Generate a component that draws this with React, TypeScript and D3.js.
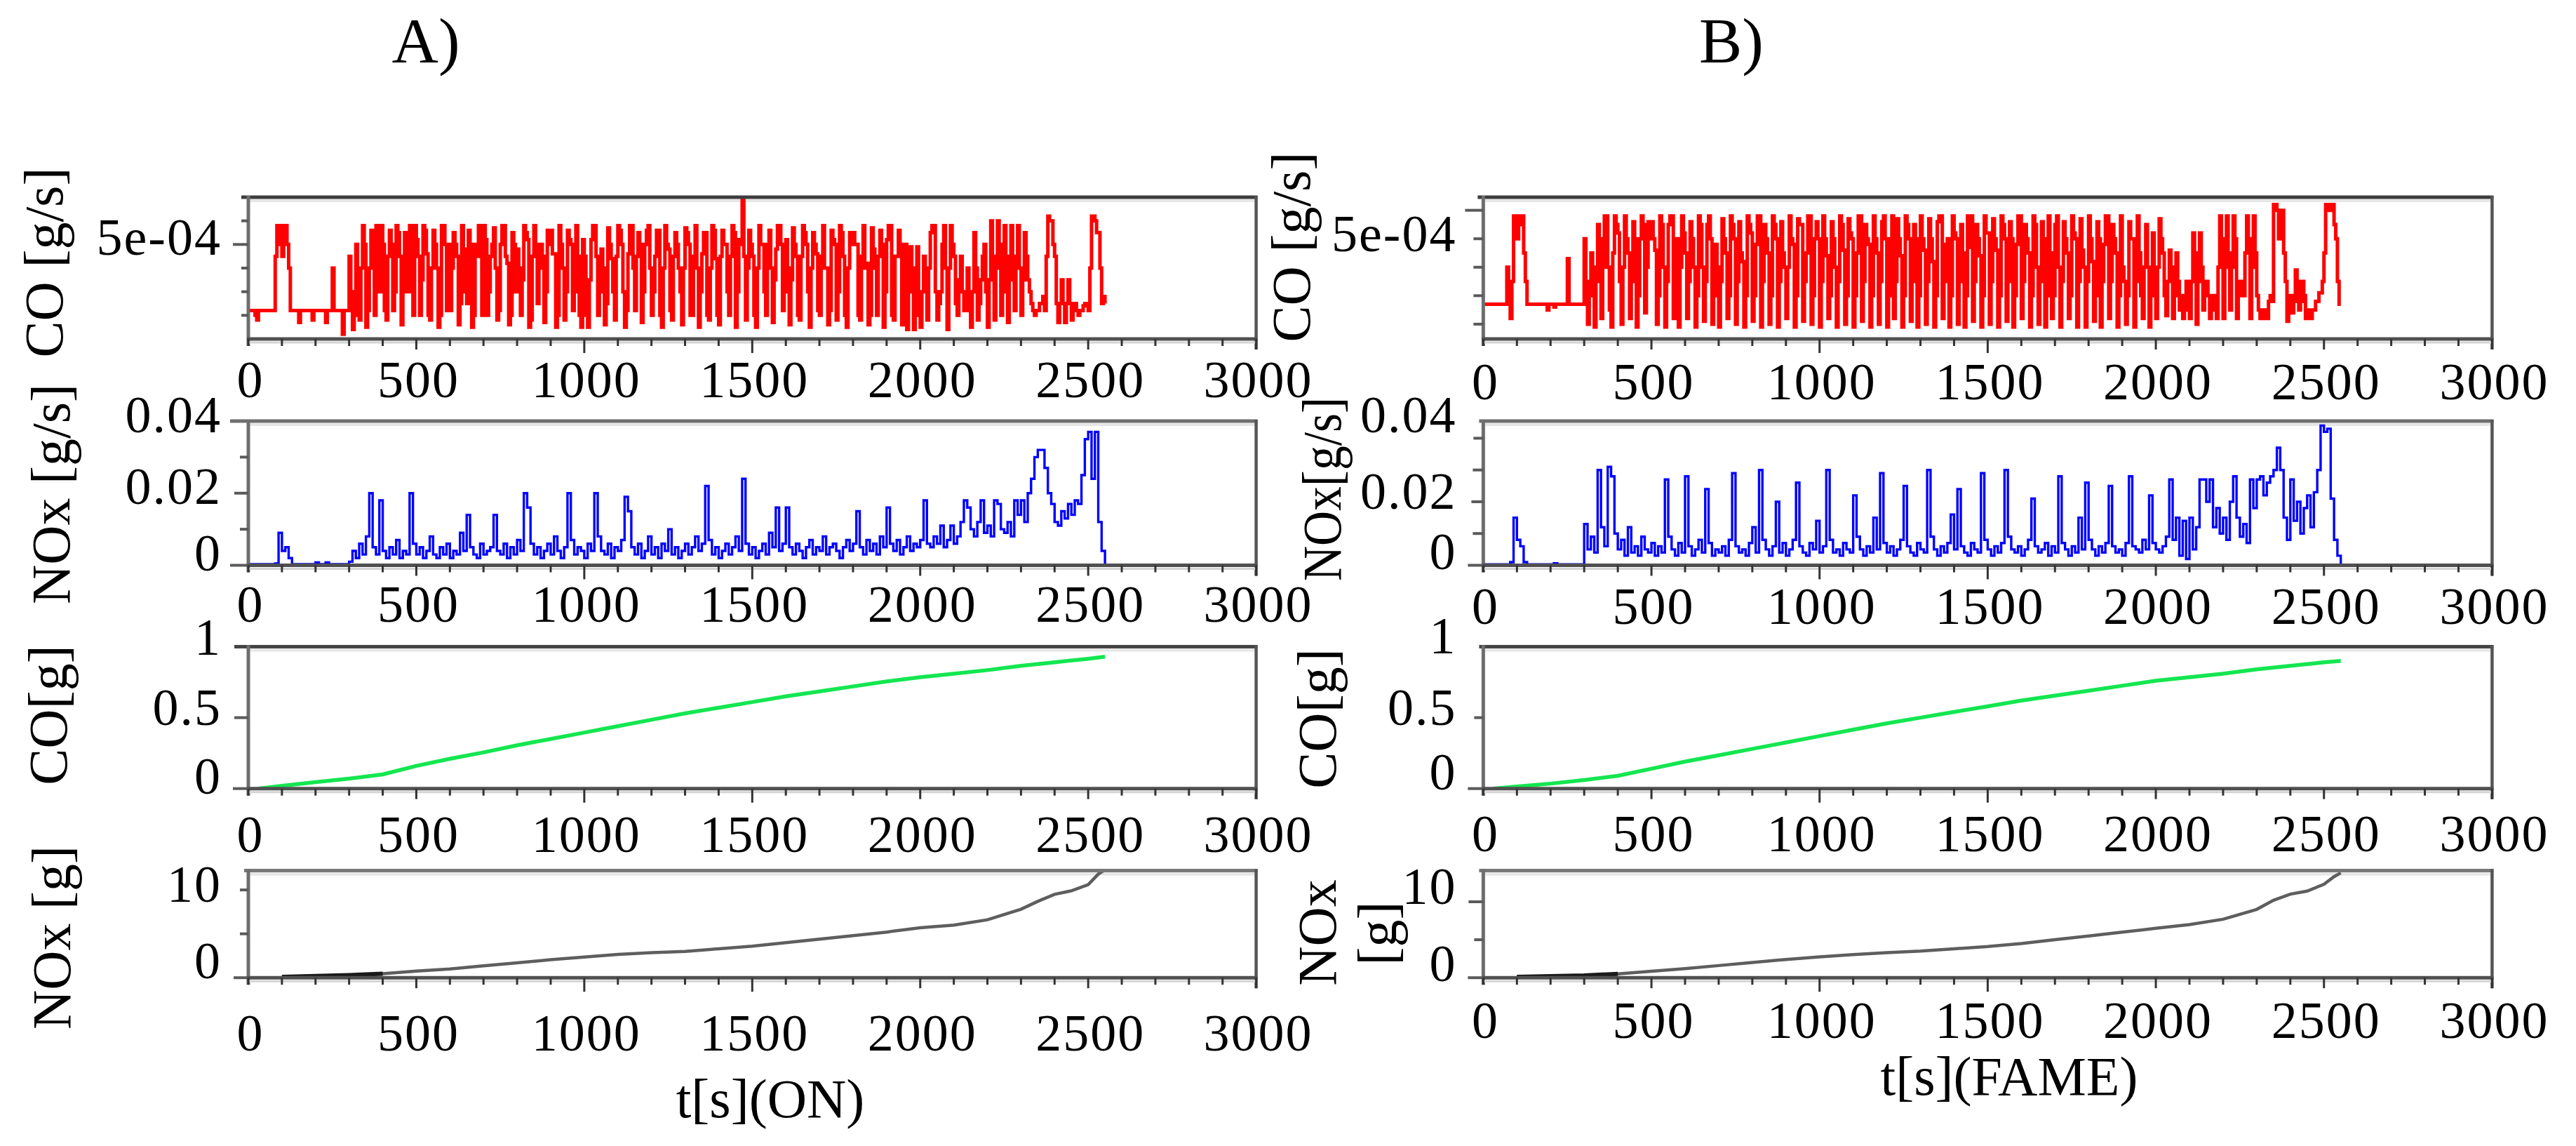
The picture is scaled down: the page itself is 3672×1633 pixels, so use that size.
import React from 'react';
import * as d3 from 'd3';

// ---------------- DATA ----------------
const CO_STEP = 5;   // seconds between CO-rate samples
const NOX_STEP = 10; // seconds between NOx-rate samples

// CO emission rate, units of 1e-5 g/s (A: ON fuel), every 5 s from t = 0
const coA = [
  22,22,22,22,20,18,22,22,22,22,22,22,22,22,22,22,
  45,58,58,50,45,58,58,50,40,22,
  22,22,22,22,17,22,22,22,22,22,22,22,18,22,22,22,22,22,22,22,17,22,22,22,
  40,22,
  22,22,22,22,12,22,22,22,
  45,30,14,20,50,35,18,40,58,50,15,22,40,56,45,20,58,55,30,58,
  50,22,18,45,56,50,22,30,58,55,45,16,30,55,40,30,58,50,20,58,
  52,45,20,35,58,56,46,20,18,40,56,50,40,15,20,58,58,50,22,50,
  22,40,55,50,45,16,25,58,48,30,25,56,50,15,20,50,45,58,55,20,
  58,52,20,30,45,50,57,40,18,22,50,58,58,45,42,16,20,55,50,30,
  48,40,20,35,58,55,52,15,18,45,58,50,25,40,50,45,17,30,56,50,
  56,46,46,15,20,58,50,40,18,30,56,52,50,22,30,58,45,20,15,52,
  45,20,15,35,52,58,58,45,20,30,48,40,16,25,57,50,44,30,18,45,
  58,56,50,30,15,22,46,58,58,40,22,45,55,50,17,30,50,56,58,40,
  20,30,45,56,56,20,15,40,58,50,48,22,18,45,55,50,40,30,16,40,
  57,55,50,20,20,45,58,40,15,30,46,55,55,20,18,40,58,56,44,20,
  16,45,56,50,50,30,20,45,58,55,15,30,52,50,70,45,18,40,56,50,
  45,20,15,40,58,50,50,30,20,50,56,40,17,35,48,58,58,50,22,30,
  52,40,16,35,57,50,45,20,18,45,58,55,50,30,15,40,55,50,46,22,
  20,45,58,40,40,16,22,56,52,50,18,30,58,55,45,20,15,40,55,50,
  55,50,50,20,18,45,58,40,42,16,20,57,48,40,20,45,56,50,15,30,
  52,58,58,20,18,45,45,56,50,16,30,50,14,30,
  49,30,14,40,49,20,15,30,45,40,18,40,55,58,58,30,18,25,30,50,
  58,40,14,40,58,50,45,25,20,35,45,30,22,30,40,22,15,30,55,40,
  18,25,35,45,50,30,15,35,60,45,18,40,60,50,20,30,58,45,17,35,
  58,40,22,45,58,40,20,35,55,45,35,30,25,22,20,22,22,25,25,28,
  22,45,62,60,60,50,45,25,17,25,35,25,17,25,35,25,18,22,25,22,
  20,22,22,24,25,24,22,40,62,62,60,55,55,40,25,28,25,
];

// CO emission rate, units of 1e-5 g/s (B: FAME fuel), every 5 s from t = 0
const coB = [
  27,27,27,27,27,27,27,27,27,27,27,27,27,27,
  40,30,22,35,
  58,58,50,55,58,58,45,35,
  27,27,27,27,27,27,27,27,27,27,27,27,25,27,27,27,26,27,27,27,27,27,27,27,
  43,27,
  27,27,27,27,27,27,27,27,
  50,35,20,30,45,40,19,35,55,50,22,40,58,58,40,25,19,45,58,55,
  52,35,20,40,58,50,45,22,35,56,50,19,30,50,58,55,24,40,56,50,
  56,50,46,20,30,58,55,40,19,35,55,58,58,22,30,50,19,40,58,52,
  45,22,35,56,50,40,19,30,58,55,40,21,35,55,58,50,20,30,48,40,
  19,35,57,50,45,22,30,58,55,50,20,35,56,45,42,19,30,58,55,52,
  21,30,48,58,58,19,35,55,50,45,20,30,58,55,50,19,35,56,45,40,
  22,40,58,50,48,19,30,57,55,55,21,35,45,58,58,20,30,50,56,50,
  19,35,58,50,44,22,30,56,50,40,19,35,58,55,46,20,30,57,52,50,
  19,30,45,58,58,21,35,55,50,48,19,30,58,50,45,20,35,56,58,50,
  19,30,50,58,22,35,57,50,44,19,30,58,55,50,21,35,55,50,19,30,
  58,50,46,20,35,57,50,42,19,30,56,58,58,22,35,48,50,19,30,58,
  52,50,20,35,55,45,19,30,58,47,58,21,35,55,50,44,19,30,58,52,
  52,20,35,57,50,46,19,30,58,55,50,21,35,56,50,19,30,48,58,58,
  22,35,55,50,45,19,30,58,55,40,20,35,56,50,19,30,58,45,22,30,
  55,58,40,19,35,56,50,45,22,30,58,52,50,19,35,57,46,40,19,35,
  58,50,42,21,30,56,50,19,35,48,58,58,22,35,55,50,45,19,30,58,
  40,35,20,30,56,50,50,19,35,58,45,30,22,40,
  55,40,19,35,52,30,22,40,57,50,45,30,23,35,46,40,22,30,45,35,
  25,30,22,30,35,25,22,35,52,45,20,35,52,40,25,30,35,30,22,30,
  30,25,22,40,58,50,22,40,58,45,25,40,58,50,22,30,35,30,30,45,
  58,50,22,40,58,45,30,25,22,25,25,22,22,28,30,28,62,62,60,50,
  60,60,45,35,21,30,30,24,28,39,35,25,28,35,30,22,25,24,22,25,
  25,28,28,31,31,35,45,62,62,60,60,62,55,50,35,27,27,
];

// NOx emission rate, units of 1e-3 g/s (A), every 10 s from t = 0
const noxA = [
  0.3,0.3,0.3,0.3,0.3,0.3,0.3,0.3,
  0.5,9,4,5,2,
  0.3,0.3,0.3,0.3,0.3,0.3,0.3,0.8,0.3,0.3,0.8,0.3,0.3,0.3,0.3,0.3,0.3,
  1,4,2,6,3,8,20,5,3,18,
  4,2,5,3,7,2,4,3,20,6,
  3,5,2,4,8,3,2,5,3,6,
  2,4,3,9,4,14,5,3,2,6,
  3,4,5,14,4,3,6,2,5,3,
  7,4,20,16,6,3,5,2,4,6,
  3,8,4,2,5,20,7,3,5,4,
  2,6,4,20,8,4,3,6,2,5,
  4,7,19,15,5,3,6,2,4,8,
  3,5,2,6,4,10,3,5,2,4,
  6,3,5,8,4,6,22,7,3,5,
  2,4,6,3,5,8,4,24,6,3,
  5,2,4,6,3,9,5,16,4,6,
  16,5,3,6,4,2,5,7,3,5,
  4,8,3,5,6,4,2,5,7,4,
  6,15,5,3,7,4,6,3,8,5,
  16,6,4,7,3,5,8,4,6,5,
  7,18,6,5,8,6,11,5,7,11,
  6,8,12,18,16,10,8,12,18,9,
  11,8,18,17,10,9,12,8,18,14,
  18,12,20,24,30,32,32,27,20,17,
  12,11,15,13,17,14,18,17,25,35,
  37,24,37,12,4,0.5,
];

// NOx emission rate, units of 1e-3 g/s (B), every 10 s from t = 0
const noxB = [
  0.3,0.3,0.3,0.3,0.3,0.3,0.3,0.3,
  1,15,8,6,1,
  0.3,0.3,0.3,0.3,0.3,0.3,0.3,0.3,0.6,0.3,0.3,0.3,0.3,0.3,0.3,0.3,0.3,
  13,5,9,4,30,12,6,31,28,10,
  5,8,3,12,4,6,3,9,5,4,
  7,3,6,4,27,9,5,3,7,4,
  28,6,3,5,8,4,24,7,3,5,
  4,6,3,8,29,6,4,5,3,7,
  12,4,30,8,5,3,6,20,4,7,
  3,5,8,26,6,4,3,7,5,14,
  4,6,30,8,4,5,3,7,5,4,
  22,9,5,3,6,4,15,5,29,7,
  4,6,3,5,8,25,6,4,3,7,
  5,4,30,9,5,3,6,4,7,16,
  5,24,6,4,3,7,5,4,29,8,
  5,3,6,4,7,30,9,5,4,6,
  3,5,8,21,6,4,5,7,3,6,
  4,28,7,5,3,6,4,15,5,26,
  8,5,3,6,4,7,25,6,4,5,
  3,7,28,6,5,4,8,5,22,7,
  5,4,6,9,27,8,15,3,14,2,
  15,5,12,27,27,20,27,12,18,10,
  15,8,20,28,15,9,13,7,27,18,
  27,28,22,26,28,30,37,30,15,8,
  27,14,20,10,18,22,12,23,30,44,
  42,43,21,8,3,0.5,
];

// cumulative CO [g]
const cumCoT = [30,100,200,300,400,500,600,700,800,900,1000,1100,1200,1300,1400,1500,1600,1700,1800,1900,2000,2100,2200,2300,2400,2500,2550];
const cumCoA = [0,0.02,0.045,0.07,0.1,0.16,0.21,0.255,0.305,0.35,0.395,0.44,0.485,0.53,0.57,0.61,0.65,0.685,0.72,0.755,0.785,0.81,0.835,0.865,0.89,0.915,0.93];
const cumCoB = [0,0.015,0.035,0.06,0.09,0.14,0.19,0.235,0.28,0.325,0.37,0.415,0.46,0.5,0.54,0.58,0.62,0.655,0.69,0.725,0.76,0.785,0.81,0.84,0.865,0.89,0.9];

// cumulative NOx [g]
const cumNoxT = [100,200,300,400,500,600,700,800,900,1000,1100,1200,1300,1400,1500,1600,1700,1800,1900,2000,2100,2200,2300,2350,2400,2450,2500,2530,2550];
const cumNoxA = [0.1,0.2,0.3,0.45,0.75,1.0,1.35,1.7,2.05,2.35,2.65,2.85,3.0,3.3,3.6,4.0,4.4,4.8,5.2,5.7,6.0,6.6,7.8,8.7,9.5,9.9,10.6,11.8,12.3];
const cumNoxB = [0.1,0.2,0.3,0.5,0.85,1.2,1.6,2.0,2.4,2.75,3.05,3.3,3.5,3.8,4.1,4.5,5.0,5.5,6.0,6.5,7.0,7.7,9.0,10.2,11.0,11.4,12.3,13.3,13.8];

// tick labels
const xTickLabels = [0, 500, 1000, 1500, 2000, 2500, 3000];
const coTickLabels = [{ v: 50, text: '5e-04' }];
const noxTickLabels = [{ v: 40, text: '0.04' }, { v: 20, text: '0.02' }, { v: 0, text: '0' }];
const cumCoTickLabels = [{ v: 1, text: '1' }, { v: 0.5, text: '0.5' }, { v: 0, text: '0' }];
const cumNoxTickLabels = [{ v: 10, text: '10' }, { v: 0, text: '0' }];

// ---------------- LAYOUT ----------------
const FONT = '"Liberation Serif", "Times New Roman", serif';
const COLS = { A: { x0: 354, x1: 1790.6 }, B: { x0: 2114.4, x1: 3552.4 } };
const ROWS = [
  { top: 281, bottom: 483 },
  { top: 600, bottom: 805.5 },
  { top: 921.5, bottom: 1123.7 },
  { top: 1240.6, bottom: 1393.2 },
];

const timesOf = (arr: number[], step: number) => arr.map((_, i) => i * step);

const panels = [
  // ---- column A ----
  { id: 'a0', col: 'A', row: 0, domain: [10, 70], t: timesOf(coA, CO_STEP), v: coA, color: '#ff0000', w: 5, step: true,
    ticks: [{ v: 20, len: 10 }, { v: 30, len: 10 }, { v: 40, len: 10 }, { v: 50, len: 22 }, { v: 60, len: 10 }],
    labels: coTickLabels, labelDy: [-10], xLabelY: 541, topColor: '#3d3d3d', topStart: 10 },
  { id: 'a1', col: 'A', row: 1, domain: [0, 40], t: timesOf(noxA, NOX_STEP), v: noxA, color: '#0000ff', w: 3.4, step: true,
    ticks: [{ v: 0, len: 26 }, { v: 10, len: 12 }, { v: 20, len: 20 }, { v: 30, len: 12 }],
    labels: noxTickLabels, labelDy: [-9, -10, -18], xLabelY: 861, topColor: '#6e6e6e', topStart: 26 },
  { id: 'a2', col: 'A', row: 2, domain: [0, 1], t: cumCoT, v: cumCoA, color: '#14e650', w: 5.5, step: false,
    ticks: [{ v: 0, len: 22 }, { v: 0.5, len: 20 }],
    labels: cumCoTickLabels, labelDy: [-14, -15, -18], xLabelY: 1189, topColor: '#454545', topStart: 20 },
  { id: 'a3', col: 'A', row: 3, domain: [0, 12.2], t: cumNoxT, v: cumNoxA, color: '#5e5e5e', w: 4.5, step: false,
    ticks: [{ v: 0, len: 21 }, { v: 5, len: 12 }, { v: 10, len: 12 }],
    labels: cumNoxTickLabels, labelDy: [-8, -24], xLabelY: 1471.5, topColor: '#787878', topStart: 6 },
  // ---- column B ----
  { id: 'b0', col: 'B', row: 0, domain: [14.8, 64.6], t: timesOf(coB, CO_STEP), v: coB, color: '#ff0000', w: 5, step: true,
    ticks: [{ v: 20, len: 14 }, { v: 30, len: 14 }, { v: 40, len: 14 }, { v: 50, len: 14 }, { v: 60, len: 26 }],
    labels: coTickLabels, labelDy: [-7], xLabelY: 544, topColor: '#3d3d3d', topStart: 8 },
  { id: 'b1', col: 'B', row: 1, domain: [0, 45.4], t: timesOf(noxB, NOX_STEP), v: noxB, color: '#0000ff', w: 3.4, step: true,
    ticks: [{ v: 0, len: 22 }, { v: 10, len: 15 }, { v: 20, len: 17 }, { v: 30, len: 15 }, { v: 40, len: 14 }],
    labels: noxTickLabels, labelDy: [-33, -15, -20], xLabelY: 863.5, topColor: '#6e6e6e', topStart: 6 },
  { id: 'b2', col: 'B', row: 2, domain: [0, 1], t: cumCoT, v: cumCoB, color: '#14e650', w: 5.5, step: false,
    ticks: [{ v: 0, len: 22 }, { v: 0.5, len: 13 }],
    labels: cumCoTickLabels, labelDy: [-16, -15, -24], xLabelY: 1188, topColor: '#454545', topStart: 6 },
  { id: 'b3', col: 'B', row: 3, domain: [0, 14.1], t: cumNoxT, v: cumNoxB, color: '#5e5e5e', w: 4.5, step: false,
    ticks: [{ v: 0, len: 22 }, { v: 5, len: 13 }, { v: 10, len: 21 }],
    labels: cumNoxTickLabels, labelDy: [-22, -20], xLabelY: 1454, topColor: '#787878', topStart: 6 },
];

const axisTitles = [
  { text: 'CO [g/s]', x: 89, y: 374 },
  { text: 'NOx [g/s]', x: 99, y: 704 },
  { text: 'CO[g]', x: 95, y: 1019 },
  { text: 'NOx [g]', x: 100, y: 1336 },
  { text: 'CO [g/s]', x: 1867, y: 352 },
  { text: 'NOx[g/s]', x: 1911, y: 697, len: 262 },
  { text: 'CO[g]', x: 1904, y: 1024 },
  { text: 'NOx', x: 1904, y: 1329 },
  { text: '[g]', x: 1990, y: 1330 },
];

function Panel({ p }: { p: any }) {
  const col = (COLS as any)[p.col];
  const row = ROWS[p.row];
  const x = d3.scaleLinear().domain([0, 3000]).range([col.x0, col.x1]);
  const y = d3.scaleLinear().domain(p.domain).range([row.bottom, row.top]);
  const pts: [number, number][] = p.t.map((t: number, i: number) => [t, p.v[i]]);
  const line = d3
    .line<[number, number]>()
    .x((d) => x(d[0]))
    .y((d) => y(d[1]))
    .curve(p.step ? d3.curveStepAfter : d3.curveLinear);
  const xTicks = d3.range(0, 3001, 100);
  const tickLen = (k: number) => (k === 1000 || k === 1500 ? 20 : k === 3000 ? 15 : k === 0 ? 10 : k % 500 === 0 ? 15 : 10);
  const clipId = 'clip-' + p.id;
  const early = pts.filter((d) => d[0] <= 450);
  return (
    <g>
      <defs>
        <clipPath id={clipId}>
          <rect x={col.x0} y={row.top} width={col.x1 - col.x0} height={row.bottom - row.top} />
        </clipPath>
      </defs>
      <line x1={col.x0} x2={col.x1} y1={row.top + 5} y2={row.top + 5} stroke="#e6e6e6" strokeWidth={4} />
      <path d={line(pts) || ''} fill="none" stroke={p.color} strokeWidth={p.w} strokeLinejoin="miter" clipPath={`url(#${clipId})`} />
      {p.row === 3 && (
        <path d={line(early) || ''} fill="none" stroke="#1a1a1a" strokeWidth={6} clipPath={`url(#${clipId})`} />
      )}
      <line x1={col.x0 - p.topStart} x2={col.x1 + 2} y1={row.top} y2={row.top} stroke={p.topColor} strokeWidth={5} />
      <line x1={col.x1} x2={col.x1} y1={row.top - 2} y2={row.bottom + tickLen(3000)} stroke="#555" strokeWidth={4.5} />
      <line x1={col.x0} x2={col.x0} y1={row.top - 2} y2={row.bottom + 10} stroke="#6e6e6e" strokeWidth={5} />
      <line x1={col.x0} x2={col.x1} y1={row.bottom + 5} y2={row.bottom + 5} stroke="#d4d4d4" strokeWidth={3} />
      <line x1={col.x0 - 2} x2={col.x1 + 2} y1={row.bottom} y2={row.bottom} stroke="#505050" strokeWidth={5} />
      {p.ticks.map((tk: any, i: number) => (
        <line key={'yt' + i} x1={col.x0 - tk.len} x2={col.x0} y1={y(tk.v)} y2={y(tk.v)} stroke="#5a5a5a" strokeWidth={4} />
      ))}
      {xTicks.map((k) => (
        <line key={'xt' + k} x1={x(k)} x2={x(k)} y1={row.bottom} y2={row.bottom + tickLen(k)} stroke="#333" strokeWidth={3} />
      ))}
      {p.labels.map((lb: any, i: number) => (
        <text key={'yl' + i} x={col.x0 - 38} y={y(lb.v) + p.labelDy[i] + 25} textAnchor="end"
          fontFamily={FONT} fontSize={74} letterSpacing={2} fill="#000">{lb.text}</text>
      ))}
      {xTickLabels.map((k) => (
        <text key={'xl' + k} x={x(k) + 3} y={p.xLabelY + 25} textAnchor="middle"
          fontFamily={FONT} fontSize={74} letterSpacing={2} fill="#000">{k}</text>
      ))}
    </g>
  );
}

export default function App() {
  return (
    <svg width={3672} height={1633} viewBox="0 0 3672 1633"
      style={{ position: 'absolute', left: 0, top: 0, background: '#fff' }}>
      <rect x={0} y={0} width={3672} height={1633} fill="#fff" />
      <text x={607} y={89} textAnchor="middle" fontFamily={FONT} fontSize={92} fill="#000">A)</text>
      <text x={2468} y={89} textAnchor="middle" fontFamily={FONT} fontSize={92} fill="#000">B)</text>
      {panels.map((p) => <Panel key={p.id} p={p} />)}
      {axisTitles.map((a, i) => (
        <text key={'at' + i} transform={`translate(${a.x},${a.y}) rotate(-90)`} textAnchor="middle"
          fontFamily={FONT} fontSize={78} fill="#000"
          {...(a.len ? { textLength: a.len, lengthAdjust: 'spacingAndGlyphs' } : {})}>{a.text}</text>
      ))}
      <text x={1098} y={1592} textAnchor="middle" fontFamily={FONT} fontSize={78} fill="#000">t[s](ON)</text>
      <text x={2864} y={1560} textAnchor="middle" fontFamily={FONT} fontSize={78} fill="#000">t[s](FAME)</text>
    </svg>
  );
}
